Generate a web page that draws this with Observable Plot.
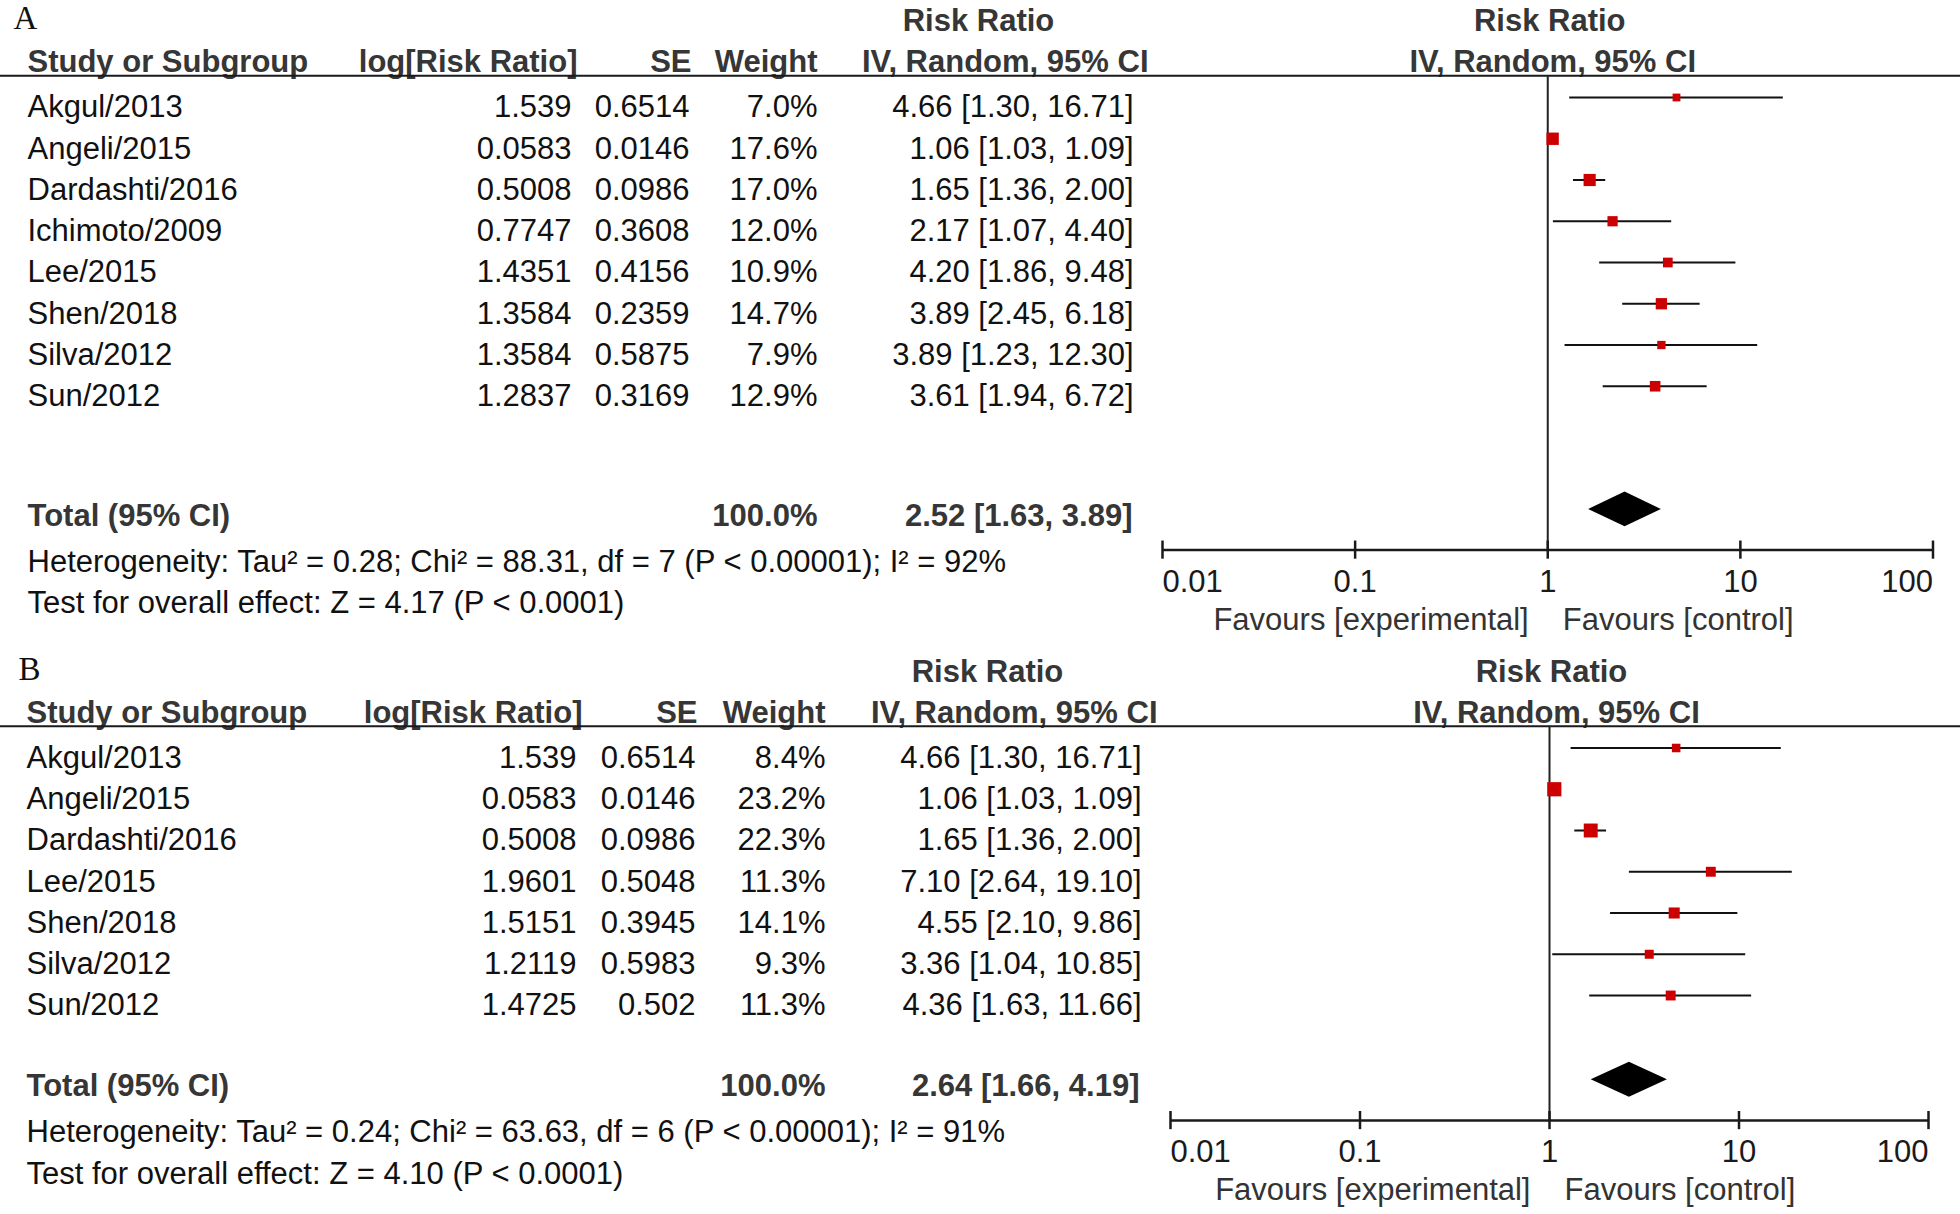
<!DOCTYPE html>
<html><head><meta charset="utf-8">
<script src="https://cdn.jsdelivr.net/npm/d3@7"></script>
<script src="https://cdn.jsdelivr.net/npm/@observablehq/plot@0.6"></script>
<style>
html,body{margin:0;padding:0;background:#fff;}
#chart{width:1960px;}
#chart svg{display:block;background:#fff;}
</style></head><body><div id="chart"></div>
<script>
// ---------- Panel A data ----------
const studiesA = ["Akgul/2013","Angeli/2015","Dardashti/2016","Ichimoto/2009","Lee/2015","Shen/2018","Silva/2012","Sun/2012"];
const logRRA   = [1.539, 0.0583, 0.5008, 0.7747, 1.4351, 1.3584, 1.3584, 1.2837];
const seA      = [0.6514, 0.0146, 0.0986, 0.3608, 0.4156, 0.2359, 0.5875, 0.3169];
const weightA  = [7.0, 17.6, 17.0, 12.0, 10.9, 14.7, 7.9, 12.9];
const rrA      = [4.66, 1.06, 1.65, 2.17, 4.20, 3.89, 3.89, 3.61];
const lowA     = [1.30, 1.03, 1.36, 1.07, 1.86, 2.45, 1.23, 1.94];
const highA    = [16.71, 1.09, 2.00, 4.40, 9.48, 6.18, 12.30, 6.72];
const totalA   = [2.52, 1.63, 3.89];
const hetA     = "Heterogeneity: Tau\u00B2 = 0.28; Chi\u00B2 = 88.31, df = 7 (P < 0.00001); I\u00B2 = 92%";
const testA    = "Test for overall effect: Z = 4.17 (P < 0.0001)";

// ---------- Panel B data ----------
const studiesB = ["Akgul/2013","Angeli/2015","Dardashti/2016","Lee/2015","Shen/2018","Silva/2012","Sun/2012"];
const logRRB   = [1.539, 0.0583, 0.5008, 1.9601, 1.5151, 1.2119, 1.4725];
const seB      = [0.6514, 0.0146, 0.0986, 0.5048, 0.3945, 0.5983, 0.502];
const weightB  = [8.4, 23.2, 22.3, 11.3, 14.1, 9.3, 11.3];
const rrB      = [4.66, 1.06, 1.65, 7.10, 4.55, 3.36, 4.36];
const lowB     = [1.30, 1.03, 1.36, 2.64, 2.10, 1.04, 1.63];
const highB    = [16.71, 1.09, 2.00, 19.10, 9.86, 10.85, 11.66];
const totalB   = [2.64, 1.66, 4.19];
const hetB     = "Heterogeneity: Tau\u00B2 = 0.24; Chi\u00B2 = 63.63, df = 6 (P < 0.00001); I\u00B2 = 91%";
const testB    = "Test for overall effect: Z = 4.10 (P < 0.0001)";

// ---------- shared labels ----------
const tickValues = [0.01, 0.1, 1, 10, 100];
const tickLabels = ["0.01", "0.1", "1", "10", "100"];
const columnHeaders = ["Study or Subgroup", "log[Risk Ratio]", "SE", "Weight", "IV, Random, 95% CI"];
const groupHeader = "Risk Ratio";
const totalLabel = "Total (95% CI)";
const totalWeight = "100.0%";
const favourLabels = ["Favours [experimental]", "Favours [control]"];

const ROW = 41.25;
const FS = 31;
const W = 1960;
const HEAD = "#363636", INK = "#111", RED = "#cc0000";

function fmtCI(rr, lo, hi) { return `${rr.toFixed(2)} [${lo.toFixed(2)}, ${hi.toFixed(2)}]`; }

function panel(cfg) {
  const rows = cfg.studies.map((study, i) => ({
    i, study, logrr: cfg.logRR[i], se: cfg.se[i], w: cfg.weight[i],
    rr: cfg.rr[i], lo: cfg.low[i], hi: cfg.high[i]
  }));
  const L = cfg.xLeft, H = cfg.height, T = cfg.totalRow;
  const yGroup = -2.09, yHead = -1.1, yLine = -0.77;
  const yAxis = T + 0.83, yTick = T + 1.6, yHet = T + 1.12, yTest = T + 2.12, yFav = T + 2.52;
  const [tRR, tLo, tHi] = cfg.total;
  const diamond = [
    {x: tLo, y1: T, y2: T},
    {x: tRR, y1: T - 0.424, y2: T + 0.424},
    {x: tHi, y1: T, y2: T}
  ];
  const ticks = tickValues.map((v, k) => ({v, label: tickLabels[k], k}));
  const c = cfg.cols;
  const txt = (data, text, y, px, anchor, extra = {}) =>
    Plot.text(data, {text, y, frameAnchor: "left", textAnchor: anchor, dx: px - L,
                     fontSize: FS, lineAnchor: "middle", ...extra});
  const head = {fontWeight: "bold", fill: HEAD};

  return Plot.plot({
    width: W, height: H,
    marginLeft: L, marginRight: W - cfg.xRight, marginTop: 0, marginBottom: 0,
    x: {type: "log", domain: [0.01, 100], axis: null},
    y: {type: "linear", domain: [-cfg.firstRow / ROW, (H - cfg.firstRow) / ROW], range: [0, H], axis: null},
    r: {type: "sqrt", domain: [0, 25], range: [0, 8.32]},
    style: {fontFamily: "'Liberation Sans', Arial, Helvetica, sans-serif", background: "#fff", color: INK},
    marks: [
      // panel letter
      Plot.text([cfg.letter], {text: d => d, frameAnchor: "left", textAnchor: "start", dx: cfg.letterX - L,
        y: () => -2.15, lineAnchor: "middle", fontFamily: "'Liberation Serif', 'Times New Roman', serif", fontSize: 33, fill: "#111"}),
      // group headers
      txt([groupHeader], d => d, () => yGroup, cfg.rrHeadX, "middle", head),
      Plot.text([groupHeader], {text: d => d, x: () => 1, y: () => yGroup, dx: 2, fontSize: FS, lineAnchor: "middle", ...head}),
      Plot.text([columnHeaders[4]], {text: d => d, x: () => 1, y: () => yHead, dx: cfg.ivDx, fontSize: FS, lineAnchor: "middle", ...head}),
      // column headers
      txt([columnHeaders[0]], d => d, () => yHead, c.name, "start", head),
      txt([columnHeaders[1]], d => d, () => yHead, c.logrrH, "end", head),
      txt([columnHeaders[2]], d => d, () => yHead, c.seH, "end", head),
      txt([columnHeaders[3]], d => d, () => yHead, c.wH, "end", head),
      txt([columnHeaders[4]], d => d, () => yHead, c.ciH, "end", head),
      // rule under header, full width
      Plot.ruleY([yLine], {stroke: "#1a1a1a", strokeWidth: 2.2, insetLeft: -L, insetRight: -(W - cfg.xRight)}),
      // study rows
      txt(rows, "study", "i", c.name, "start"),
      txt(rows, d => String(d.logrr), "i", c.logrr, "end"),
      txt(rows, d => String(d.se), "i", c.se, "end"),
      txt(rows, d => d.w.toFixed(1) + "%", "i", c.w, "end"),
      txt(rows, d => fmtCI(d.rr, d.lo, d.hi), "i", c.ci, "end"),
      // total row
      txt([totalLabel], d => d, () => T, c.name, "start", head),
      txt([totalWeight], d => d, () => T, c.w, "end", head),
      txt([cfg.total], d => fmtCI(d[0], d[1], d[2]), () => T, c.ciT, "end", head),
      // footers
      txt([cfg.het], d => d, () => yHet, c.name, "start"),
      txt([cfg.test], d => d, () => yTest, c.name, "start"),
      // line of no effect
      Plot.ruleX([1], {y1: yLine, y2: yAxis, stroke: "#222", strokeWidth: 2}),
      // confidence intervals
      Plot.ruleY(rows, {y: "i", x1: "lo", x2: "hi", dy: -10, stroke: "#111", strokeWidth: 2.2}),
      // study estimates
      Plot.dot(rows, {x: "rr", y: "i", r: "w", symbol: "square", fill: RED, stroke: "none", dy: -10}),
      // pooled diamond
      Plot.area(diamond, {x1: "x", y1: "y1", y2: "y2", fill: "#000", dy: -6.5}),
      // x axis
      Plot.ruleY([yAxis], {x1: tickValues[0], x2: tickValues[tickValues.length - 1], stroke: "#1a1a1a", strokeWidth: 2.5}),
      Plot.ruleX(ticks, {x: "v", y1: () => yAxis - 0.22, y2: () => yAxis + 0.22, stroke: "#1a1a1a", strokeWidth: 2.5}),
      Plot.text(ticks.filter(d => d.k === 0), {x: "v", y: () => yTick, text: "label", textAnchor: "start", fontSize: FS, lineAnchor: "middle", fill: "#1a1a1a"}),
      Plot.text(ticks.filter(d => d.k > 0 && d.k < ticks.length - 1), {x: "v", y: () => yTick, text: "label", textAnchor: "middle", fontSize: FS, lineAnchor: "middle", fill: "#1a1a1a"}),
      Plot.text(ticks.filter(d => d.k === ticks.length - 1), {x: "v", y: () => yTick, text: "label", textAnchor: "end", fontSize: FS, lineAnchor: "middle", fill: "#1a1a1a"}),
      // favours labels
      Plot.text([favourLabels[0]], {text: d => d, x: () => 1, y: () => yFav, textAnchor: "end", dx: -19, fontSize: FS, lineAnchor: "middle", fill: "#333"}),
      Plot.text([favourLabels[1]], {text: d => d, x: () => 1, y: () => yFav, textAnchor: "start", dx: 15, fontSize: FS, lineAnchor: "middle", fill: "#333"})
    ]
  });
}

const chart = document.getElementById("chart");
chart.append(panel({
  letter: "A", letterX: 13, height: 640, firstRow: 107, totalRow: 9.9,
  xLeft: 1162, xRight: 1932.5, rrHeadX: 978, ivDx: 5,
  cols: {name: 27, logrr: 571, se: 689, w: 817, ci: 1133, ciT: 1132, logrrH: 577, seH: 691, wH: 817, ciH: 1148},
  studies: studiesA, logRR: logRRA, se: seA, weight: weightA, rr: rrA, low: lowA, high: highA,
  total: totalA, het: hetA, test: testA
}));
chart.append(panel({
  letter: "B", letterX: 18, height: 574, firstRow: 117.5, totalRow: 7.96,
  xLeft: 1170, xRight: 1928, rrHeadX: 987, ivDx: 7,
  cols: {name: 26, logrr: 576, se: 695, w: 825, ci: 1141, ciT: 1139, logrrH: 582, seH: 697, wH: 825, ciH: 1157},
  studies: studiesB, logRR: logRRB, se: seB, weight: weightB, rr: rrB, low: lowB, high: highB,
  total: totalB, het: hetB, test: testB
}));
</script>
</body></html>
